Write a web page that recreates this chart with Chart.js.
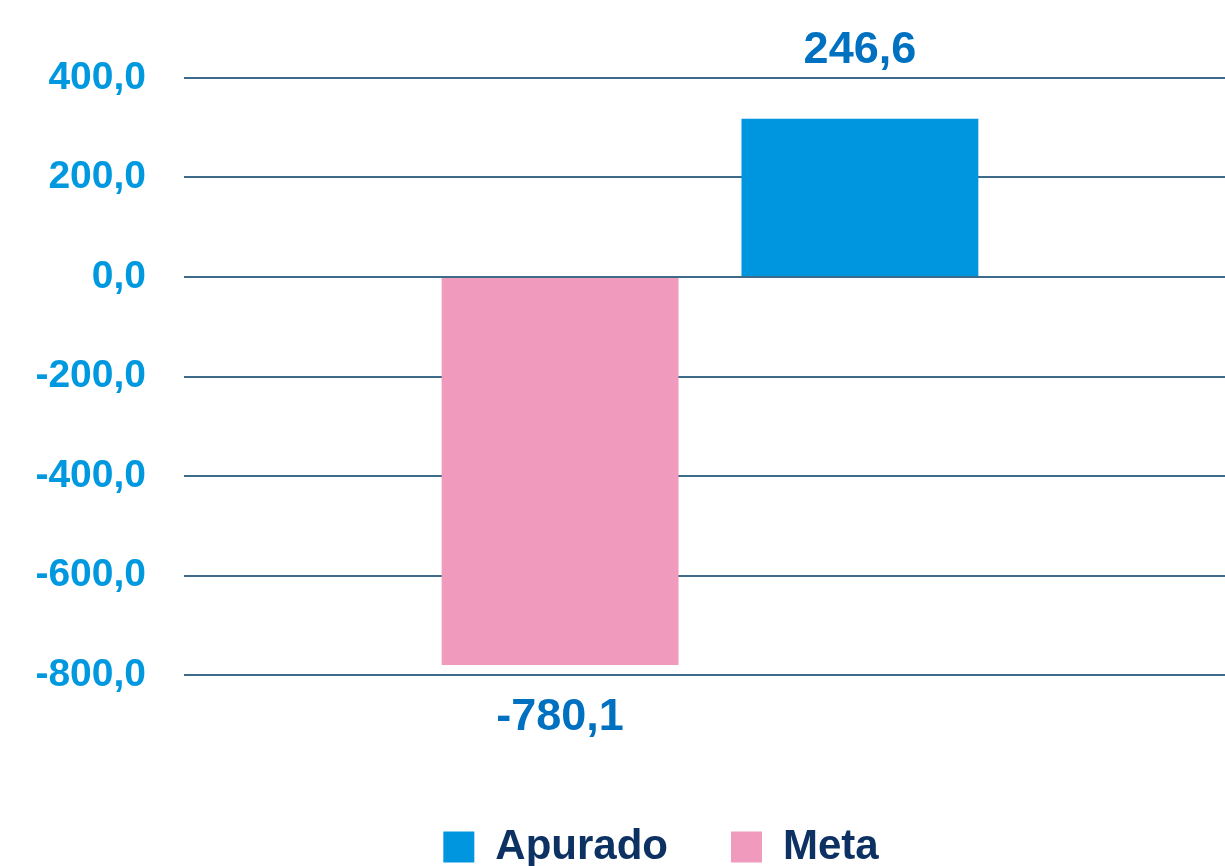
<!DOCTYPE html>
<html>
<head>
<meta charset="utf-8">
<script src="https://cdn.jsdelivr.net/npm/chart.js@4"></script>
<style>
html,body{margin:0;padding:0;background:#fff;overflow:hidden;}
#wrap{width:1225px;height:866px;overflow:hidden;}
</style>
</head>
<body>
<div id="wrap"><canvas id="c" width="1236" height="878"></canvas></div>
<script>
const categories = [''];
const seriesNames = ['Meta', 'Apurado'];
const metaValues = [-780.1];
const apuradoValues = [318];
const valueLabels = ['-780,1', '246,6'];
const seriesColors = ['#f09abd', '#0096df'];
const yTicks = [-800, -600, -400, -200, 0, 200, 400];

const FONT = "'Liberation Sans', Arial, sans-serif";

const dataLabelPlugin = {
  id: 'dataLabels',
  afterDatasetsDraw(chart) {
    const ctx = chart.ctx;
    ctx.save();
    ctx.font = 'bold 45px ' + FONT;
    ctx.fillStyle = '#0070c0';
    ctx.textAlign = 'center';
    ctx.textBaseline = 'middle';
    chart.data.datasets.forEach((ds, i) => {
      const meta = chart.getDatasetMeta(i);
      meta.data.forEach((el, j) => {
        const v = ds.data[j];
        const y = v >= 0 ? el.y - 68 : el.y + 52;
        ctx.fillText(valueLabels[i], el.x, y);
      });
    });
    ctx.restore();
  }
};

const legendShiftPlugin = {
  id: 'legendShift',
  afterLayout(chart) {
    const lg = chart.legend;
    if (lg) { lg.left = 97; lg.right = 1225; }
  }
};

new Chart(document.getElementById('c'), {
  type: 'bar',
  data: {
    labels: categories,
    datasets: [
      { label: seriesNames[0], data: metaValues, backgroundColor: seriesColors[0], borderWidth: 0 },
      { label: seriesNames[1], data: apuradoValues, backgroundColor: seriesColors[1], borderWidth: 0 }
    ]
  },
  options: {
    responsive: false,
    devicePixelRatio: 1,
    animation: false,
    categoryPercentage: 0.570,
    barPercentage: 0.79,
    layout: { padding: { left: 35, right: 0, top: 78, bottom: 0 } },
    plugins: {
      legend: {
        position: 'bottom',
        reverse: true,
        labels: {
          boxWidth: 31,
          boxHeight: 31,
          padding: 63,
          color: '#0d3162',
          font: { family: FONT, size: 42, weight: 'bold' }
        }
      },
      tooltip: { enabled: false }
    },
    scales: {
      x: {
        display: true,
        grid: { display: false },
        border: { display: false },
        ticks: { display: false },
        afterFit(scale) { scale.height = 88; }
      },
      y: {
        min: -800,
        max: 400,
        afterBuildTicks(scale) { scale.ticks = yTicks.map(v => ({ value: v })); },
        afterFit(scale) { scale.width = 149; },
        border: { display: false },
        grid: { color: '#3f6b8b', lineWidth: 2, drawTicks: false },
        ticks: {
          padding: 38,
          color: '#0099e0',
          font: { family: FONT, size: 39, weight: 'bold' },
          callback: v => v.toFixed(1).replace('.', ',')
        }
      }
    }
  },
  plugins: [dataLabelPlugin, legendShiftPlugin]
});
</script>
</body>
</html>
